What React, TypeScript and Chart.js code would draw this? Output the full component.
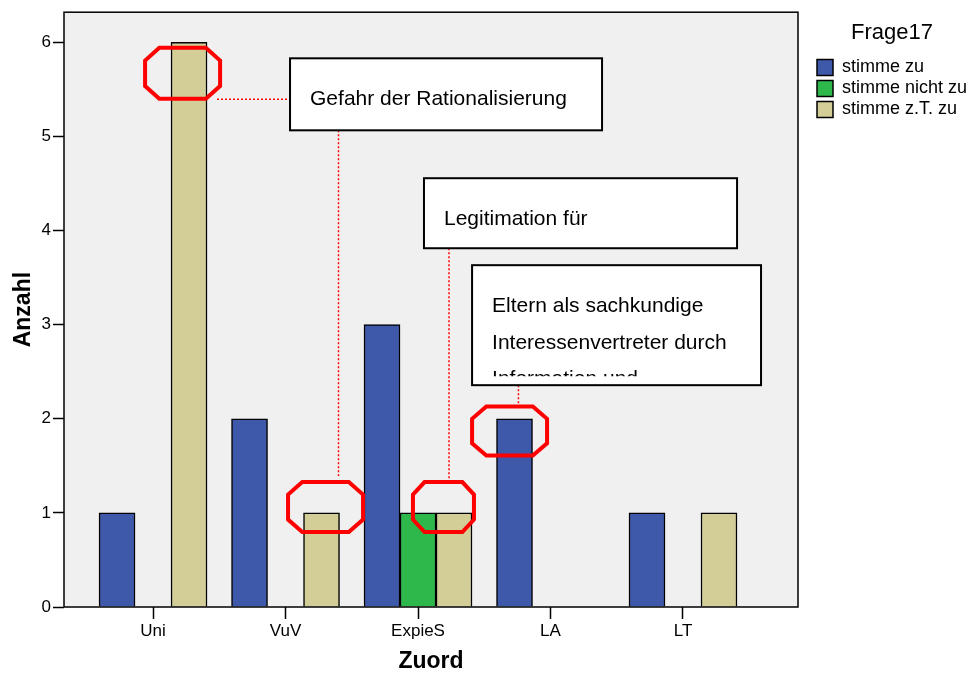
import { useEffect, useRef } from 'react';
import { Chart, registerables } from 'chart.js';

Chart.register(...registerables);

// ---- data ----
const categories = ['Uni', 'VuV', 'ExpieS', 'LA', 'LT'];
const seriesNames = ['stimme zu', 'stimme nicht zu', 'stimme z.T. zu'];
const stimmeZu = [1, 2, 3, 2, 1];
const stimmeNichtZu = [null, null, 1, null, null];
const stimmeZTZu = [6, 1, 1, null, 1];
const yTickValues = [0, 1, 2, 3, 4, 5, 6];
const legendTitle = 'Frage17';
const xTitle = 'Zuord';
const yTitle = 'Anzahl';
const noteTexts = [
  ['Gefahr der Rationalisierung'],
  ['Legitimation für'],
  ['Eltern als sachkundige', 'Interessenvertreter durch', 'Information und'],
];

// ---- annotation geometry (in axis units: x = category index, y = count) ----
const noteBoxes = [
  { x0: 1.034, x1: 3.389, y0: 5.83, y1: 5.065 },
  { x0: 2.045, x1: 4.408, y0: 4.556, y1: 3.812 },
  { x0: 2.408, x1: 4.589, y0: 3.632, y1: 2.357 },
];
const highlightRings = [
  { x: 0.223, y: 5.671, w: 75, h: 51 },
  { x: 1.302, y: 1.062, w: 75, h: 50 },
  { x: 2.192, y: 1.062, w: 61, h: 50 },
  { x: 2.691, y: 1.869, w: 75, h: 49 },
];
const leaderLines = [
  { x0: 0.483, y0: 5.395, x1: 1.034, y1: 5.395 },
  { x0: 1.4, y0: 5.065, x1: 1.4, y1: 1.391 },
  { x0: 2.234, y0: 3.812, x1: 2.234, y1: 1.338 },
  { x0: 2.758, y0: 2.357, x1: 2.758, y1: 2.134 },
];

const FONT = "'Liberation Sans', Arial, Helvetica, sans-serif";
const seriesValues = [stimmeZu, stimmeNichtZu, stimmeZTZu];
const seriesColors = ['#3e58aa', '#2eb84c', '#d3ce98'];

const notesPlugin = {
  id: 'notesPlugin',
  beforeDraw(chart: any) {
    const { ctx, chartArea: a } = chart;
    ctx.save();
    ctx.fillStyle = '#f0f0f0';
    ctx.fillRect(a.left, a.top, a.right - a.left, a.bottom - a.top);
    ctx.restore();
  },
  afterDatasetsDraw(chart: any) {
    const { ctx, chartArea: a } = chart;
    const xs = chart.scales.x;
    const ys = chart.scales.y;
    const px = (v: number) => xs.getPixelForValue(v);
    const py = (v: number) => ys.getPixelForValue(v);
    ctx.save();
    // frame
    ctx.strokeStyle = '#000';
    ctx.lineWidth = 1.5;
    ctx.strokeRect(a.left, a.top, a.right - a.left, a.bottom - a.top);

    // leader lines
    ctx.strokeStyle = '#ff0000';
    ctx.lineWidth = 1.5;
    ctx.setLineDash([2, 2]);
    leaderLines.forEach((l) => {
      ctx.beginPath();
      ctx.moveTo(px(l.x0), py(l.y0));
      ctx.lineTo(px(l.x1), py(l.y1));
      ctx.stroke();
    });
    ctx.setLineDash([]);

    // octagon rings
    ctx.strokeStyle = '#ff0000';
    ctx.lineWidth = 4;
    ctx.lineJoin = 'miter';
    highlightRings.forEach((r) => {
      const cx = px(r.x);
      const cy = py(r.y);
      const hw = r.w / 2;
      const hh = r.h / 2;
      const cx2 = r.w * 0.19;
      const cy2 = r.h * 0.25;
      ctx.beginPath();
      ctx.moveTo(cx - hw + cx2, cy - hh);
      ctx.lineTo(cx + hw - cx2, cy - hh);
      ctx.lineTo(cx + hw, cy - hh + cy2);
      ctx.lineTo(cx + hw, cy + hh - cy2);
      ctx.lineTo(cx + hw - cx2, cy + hh);
      ctx.lineTo(cx - hw + cx2, cy + hh);
      ctx.lineTo(cx - hw, cy + hh - cy2);
      ctx.lineTo(cx - hw, cy - hh + cy2);
      ctx.closePath();
      ctx.stroke();
    });

    // text boxes
    noteBoxes.forEach((b, i) => {
      const l = px(b.x0);
      const r = px(b.x1);
      const t = py(b.y0);
      const bt = py(b.y1);
      ctx.fillStyle = '#ffffff';
      ctx.fillRect(l, t, r - l, bt - t);
      ctx.strokeStyle = '#000';
      ctx.lineWidth = 2;
      ctx.strokeRect(l, t, r - l, bt - t);
      ctx.save();
      ctx.beginPath();
      ctx.rect(l + 2, t + 2, r - l - 4, bt - t - 11);
      ctx.clip();
      ctx.fillStyle = '#000';
      ctx.font = `21px ${FONT}`;
      ctx.textBaseline = 'alphabetic';
      ctx.textAlign = 'left';
      noteTexts[i].forEach((line, k) => {
        ctx.fillText(line, l + 20, t + 47 + k * 36.5);
      });
      ctx.restore();
    });
    ctx.restore();
  },
};

export default function App() {
  const canvasRef = useRef<HTMLCanvasElement | null>(null);

  useEffect(() => {
    if (!canvasRef.current) return;
    Chart.defaults.font.family = FONT;
    Chart.defaults.color = '#000';
    const chart = new Chart(canvasRef.current, {
      type: 'bar',
      data: {
        datasets: seriesValues.map((vals, k) => ({
          label: seriesNames[k],
          data: vals.map((v, i) => ({ x: i, y: v })),
          backgroundColor: seriesColors[k],
          borderColor: '#000',
          borderWidth: 1.5,
          barThickness: 36,
        })),
      } as any,
      options: {
        animation: false,
        responsive: false,
        events: [],
        layout: { padding: { top: 12, left: 0, right: 0, bottom: 0 } },
        plugins: {
          tooltip: { enabled: false },
          legend: {
            position: 'right',
            align: 'start',
            maxWidth: 156,
            labels: {
              boxWidth: 16,
              boxHeight: 16,
              padding: 3,
              color: '#000',
              font: { size: 18, family: FONT },
            },
            title: {
              display: true,
              text: legendTitle,
              color: '#000',
              font: { size: 22, family: FONT },
              padding: { top: 10, bottom: 7 },
            },
          },
        },
        scales: {
          x: {
            type: 'linear',
            min: -0.672,
            max: 4.868,
            offset: false,
            grid: {
              offset: false,
              drawOnChartArea: false,
              drawTicks: true,
              tickLength: 12,
              tickColor: '#000',
              tickWidth: 1.5,
              color: '#000',
            },
            border: { display: false },
            afterBuildTicks: (s: any) => {
              s.ticks = categories.map((_, i) => ({ value: i }));
            },
            ticks: {
              autoSkip: false,
              maxRotation: 0,
              padding: 2,
              color: '#000',
              font: { size: 17, family: FONT },
              callback: (_v: any, i: number) => categories[i],
            },
            title: {
              display: true,
              text: xTitle,
              color: '#000',
              font: { size: 23, weight: 'bold', family: FONT, lineHeight: 1 },
              padding: { top: 0, bottom: 0 },
            },
            afterFit: (s: any) => {
              s.height = 66;
            },
          },
          y: {
            min: 0,
            max: 6.32,
            grid: {
              drawOnChartArea: false,
              drawTicks: true,
              tickLength: 11,
              tickColor: '#000',
              tickWidth: 1.5,
              color: '#000',
            },
            border: { display: false },
            afterBuildTicks: (s: any) => {
              s.ticks = yTickValues.map((v) => ({ value: v }));
            },
            ticks: {
              padding: 2,
              color: '#000',
              font: { size: 17, family: FONT },
            },
            title: {
              display: true,
              text: yTitle,
              color: '#000',
              font: { size: 23, weight: 'bold', family: FONT },
              padding: { top: 10, bottom: 0 },
            },
            afterFit: (s: any) => {
              s.width = 64;
            },
          },
          y2: {
            type: 'linear',
            position: 'right',
            display: true,
            grid: { display: false },
            ticks: { display: false },
            border: { display: false },
            afterFit: (s: any) => {
              s.width = 16;
            },
          },
        },
      } as any,
      plugins: [notesPlugin],
    });
    return () => chart.destroy();
  }, []);

  return (
    <div style={{ position: 'absolute', left: 0, top: 0, width: 970, height: 673, background: '#fff' }}>
      <canvas ref={canvasRef} width={970} height={673} style={{ display: 'block' }} />
    </div>
  );
}
